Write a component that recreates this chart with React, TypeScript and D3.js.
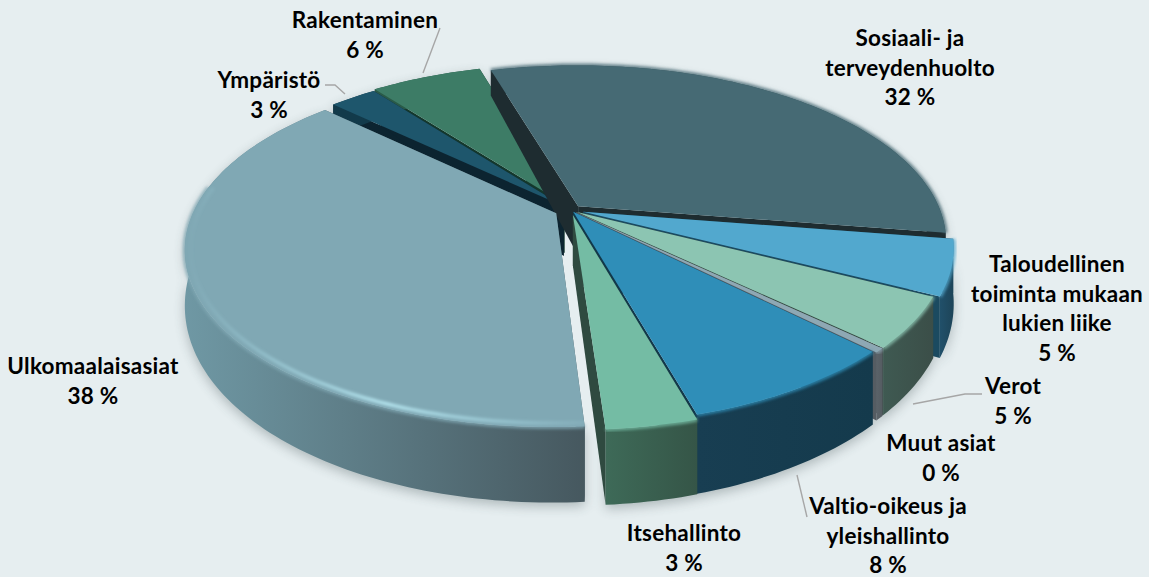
import React from "react";
import * as d3 from "d3";

const categories = ["Sosiaali- ja terveydenhuolto", "Taloudellinen toiminta mukaan lukien liike", "Verot", "Muut asiat", "Valtio-oikeus ja yleishallinto", "Itsehallinto", "Ulkomaalaisasiat", "Ympäristö", "Rakentaminen"];
const values = [32, 5, 4.6, 0.4, 8.1, 3.3, 38.1, 2.5, 5.9];
const percentLabels = ["32 %", "5 %", "5 %", "0 %", "8 %", "3 %", "38 %", "3 %", "6 %"];
const labelLines = [
  ["Sosiaali- ja", "terveydenhuolto"],
  ["Taloudellinen", "toiminta mukaan", "lukien liike"],
  ["Verot"],
  ["Muut asiat"],
  ["Valtio-oikeus ja", "yleishallinto"],
  ["Itsehallinto"],
  ["Ulkomaalaisasiat"],
  ["Ympäristö"],
  ["Rakentaminen"],
];
const W = 1149, H = 577;
const topColors = ["#466a74", "#52a8ce", "#8cc5b2", "#8ea8b4", "#2f8eb8", "#74bca4", "#80a8b4", "#1e566c", "#3d7c66"];
const cutColors = ["#1e2c30", "#1b4a60", "#33483f", "#555c62", "#12384a", "#2f4a40", "#4a5f66", "#0c2430", "#14382c"];
const wallFrom = ["#1e2c30", "#21506a", "#3f5a52", "#5b6369", "#183e52", "#3e6a58", "#6f98a4", "#123a4a", "#2a5a48"];
const wallTo = ["#1e2c30", "#1d4458", "#3b4e48", "#555c62", "#143a4c", "#355547", "#46585f", "#123a4a", "#2a5a48"];
const explode = [0.03, 0.035, 0.02, 0.02, 0.012, 0.03, 0.045, 0.03, 0.04];
const extraThick = [0, 0, 0, 0, 5, 0, 0, 0, 0];
const labelPos: [number, number][] = [[910, 46], [1057, 272], [1013, 394], [941, 451], [888, 514], [684, 541], [93, 374], [269, 88], [365, 28]];
const leaders: [number, number][][] = [
  [[440, 28], [423, 73]],
  [[325, 85], [335, 85], [345, 94]],
  [[913, 404], [965, 394], [982, 394]],
  [[797, 475], [807, 517]],
];
const drawOrder = [8, 7, 0, 1, 2, 3, 4, 6, 5];

const cx = 571, cy = 210, bx = 362, ay = 170, k = 0.198;
const thick = (v: number) => 50 + 25 * v;
type P = { x: number; y: number; t: number };
const project = (u: number, v: number): P => {
  const s = 1 / (1 - k * v);
  return { x: cx + bx * u * s, y: cy + ay * v * s, t: thick(v) };
};
const line = d3.line<[number, number]>().x((d) => d[0]).y((d) => d[1]);
const closed = (pts: [number, number][]) => line(pts) + "Z";

const startDeg = -16.5;
const arcs = d3
  .pie<number>()
  .sort(null)
  .startAngle((startDeg * Math.PI) / 180)
  .endAngle(((startDeg + 360) * Math.PI) / 180)
  .padAngle(0)(values);

function geometry(i: number) {
  const a = arcs[i];
  const mid = (a.startAngle + a.endAngle) / 2;
  const e = explode[i];
  const ox = e * Math.sin(mid), oy = -e * Math.cos(mid);
  const at = (ang: number, r = 1) => {
    const p = project(r * Math.sin(ang) + ox, -r * Math.cos(ang) + oy);
    return { ...p, t: p.t + extraThick[i] };
  };
  const n = Math.max(3, Math.ceil((a.endAngle - a.startAngle) / 0.02));
  const angles = d3.range(n + 1).map((j) => a.startAngle + ((a.endAngle - a.startAngle) * j) / n);
  const rim = angles.map((g) => at(g));
  const apex = at(0, 0);
  return { a, apex, rim, angles, at };
}

const frontEnd = (280 * Math.PI) / 180;

function Slice({ i }: { i: number }) {
  const { apex, rim, angles, at } = geometry(i);
  const first = rim[0], last = rim[rim.length - 1];
  const top = closed([[apex.x, apex.y], ...rim.map((p): [number, number] => [p.x, p.y])]);
  const wall = closed([
    ...rim.map((p): [number, number] => [p.x, p.y]),
    ...rim.slice().reverse().map((p): [number, number] => [p.x, p.y + p.t]),
  ]);
  const cut = (c: P) => closed([[apex.x, apex.y], [c.x, c.y], [c.x, c.y + c.t], [apex.x, apex.y + apex.t]]);
  const frontAngles = angles.filter((g) => g < frontEnd);
  const rimLine = line(frontAngles.map((g): [number, number] => { const p = at(g); return [p.x, p.y]; }))!;
  const inner = line(frontAngles.map((g): [number, number] => { const p = at(g, 0.985); return [p.x, p.y]; }))!;
  return (
    <g>
      <path d={cut(first)} fill={cutColors[i]} />
      <path d={cut(last)} fill={cutColors[i]} />
      <path d={wall} fill={`url(#wall${i})`} />
      <path d={rimLine} fill="none" stroke={topColors[i]} strokeWidth={4} filter="url(#soft)" opacity={0.8} />
      <path d={top} fill={topColors[i]} />
      {i === 6 && <path d={inner} fill="none" stroke="url(#hi)" strokeWidth={3.5} filter="url(#soft)" />}
    </g>
  );
}

export default function App() {
  return (
    <svg width={W} height={H} viewBox={`0 0 ${W} ${H}`} style={{ position: "absolute", left: 0, top: 0 }} fontFamily="Lato, Carlito, sans-serif">
      <defs>
        <filter id="soft" x="-20%" y="-20%" width="140%" height="140%"><feGaussianBlur stdDeviation="1.4" /></filter>
        <filter id="shadow" x="-10%" y="-10%" width="120%" height="120%"><feGaussianBlur stdDeviation="6" /></filter>
        <linearGradient id="hi" gradientUnits="userSpaceOnUse" x1={185} x2={590} y1={0} y2={0}>
          <stop offset="0" stopColor="#a8dce8" stopOpacity={0} />
          <stop offset="0.5" stopColor="#b4e4ee" stopOpacity={1} />
          <stop offset="1" stopColor="#a8dce8" stopOpacity={0.1} />
        </linearGradient>
        {values.map((_, i) => {
          const xs = geometry(i).rim.map((p) => p.x);
          return (
            <linearGradient key={i} id={`wall${i}`} gradientUnits="userSpaceOnUse" x1={d3.min(xs)} x2={d3.max(xs)} y1={0} y2={0}>
              <stop offset="0" stopColor={wallFrom[i]} />
              <stop offset="1" stopColor={wallTo[i]} />
            </linearGradient>
          );
        })}
      </defs>
      <rect width={W} height={H} fill="#e6eef0" />
      <g filter="url(#shadow)" opacity={0.3} transform="translate(0,4)">
        {values.map((_, i) => {
          const { rim } = geometry(i);
          return <path key={i} fill="#2a3a3e" d={closed([...rim.map((p): [number, number] => [p.x, p.y]), ...rim.slice().reverse().map((p): [number, number] => [p.x, p.y + p.t])])} />;
        })}
      </g>
      {leaders.map((l, i) => (
        <path key={i} d={line(l)!} fill="none" stroke="#a6a6a6" strokeWidth={1.4} />
      ))}
      {drawOrder.map((i) => (
        <Slice key={i} i={i} />
      ))}
      <g fontWeight={700} fontSize={22.5} letterSpacing={0.25} fill="#000" textAnchor="middle">
        {categories.map((c, i) => {
          const [x, y] = labelPos[i];
          return (
            <text key={c} x={x} y={y}>
              {[...labelLines[i], percentLabels[i]].map((t, j) => (
                <tspan key={j} x={x} dy={j === 0 ? 0 : 29.5}>{t}</tspan>
              ))}
            </text>
          );
        })}
      </g>
    </svg>
  );
}
